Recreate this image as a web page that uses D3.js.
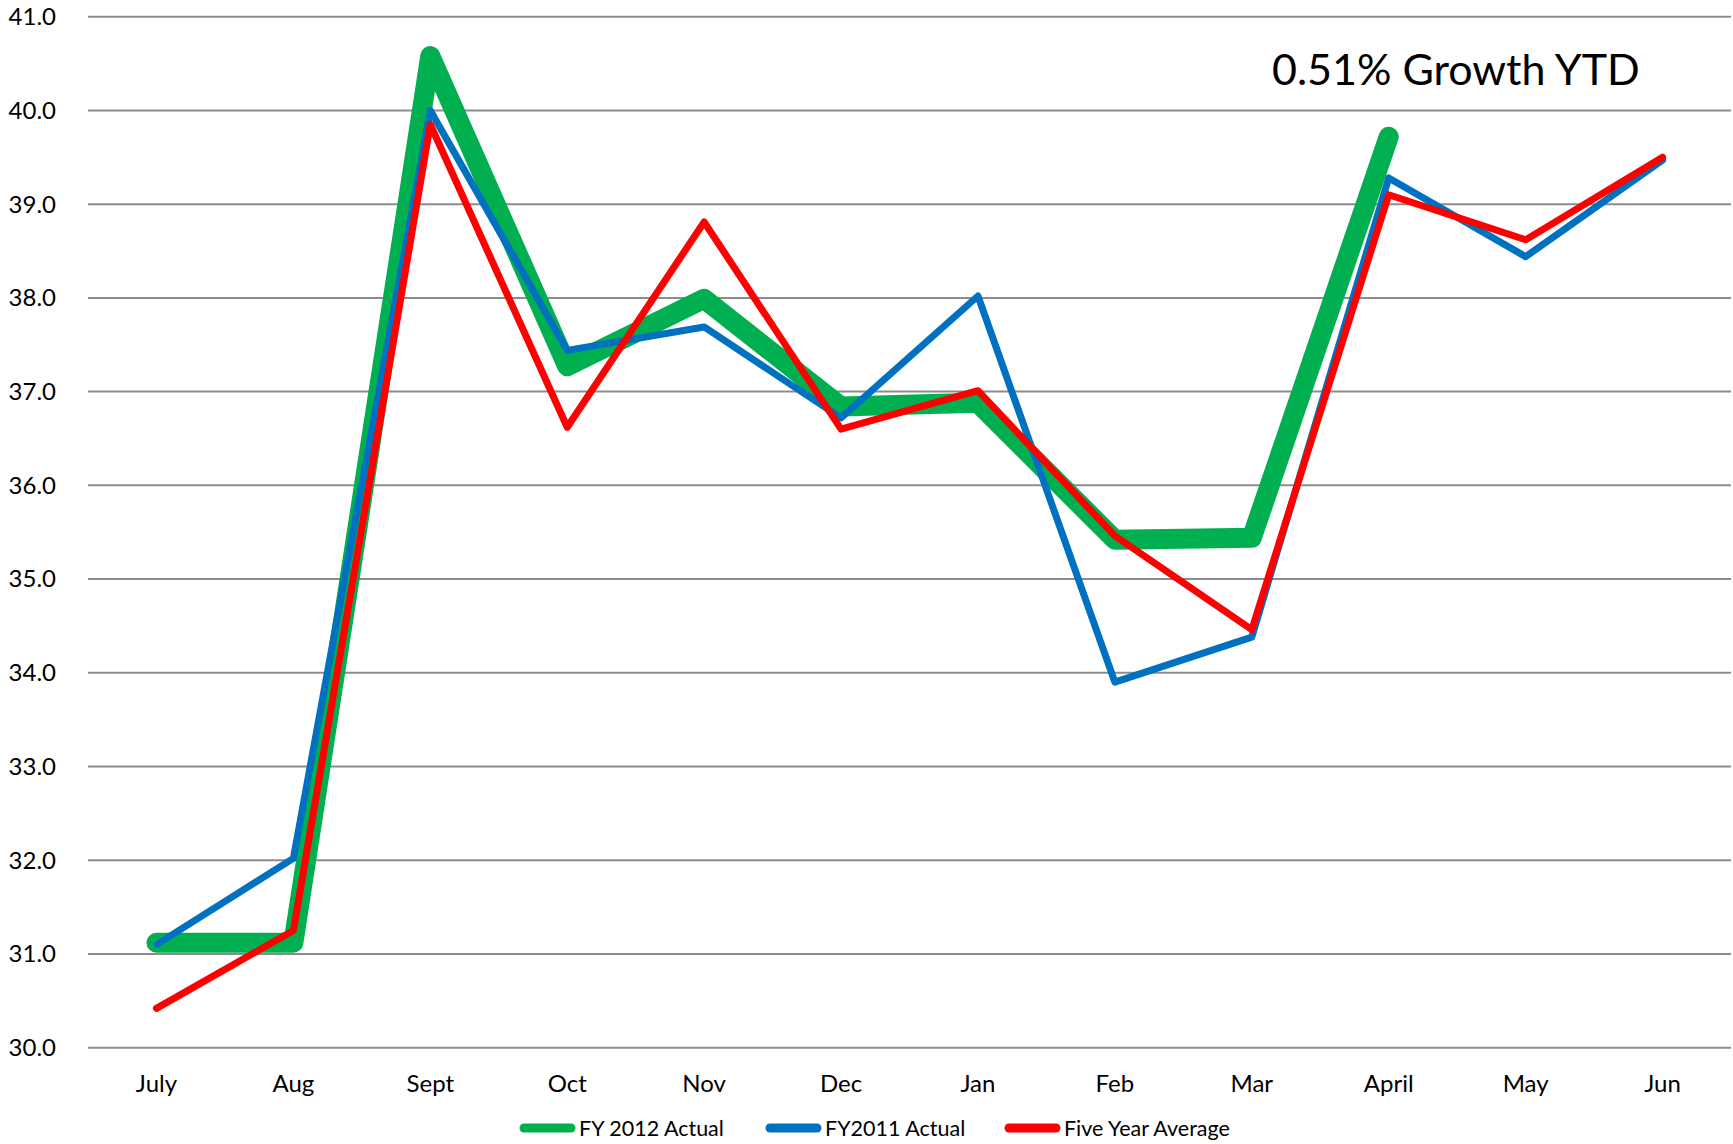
<!DOCTYPE html>
<html><head><meta charset="utf-8">
<script src="https://cdn.jsdelivr.net/npm/d3@7"></script>
<style>body{margin:0;background:#fff}svg{display:block}text{font-family:Lato,"Open Sans",sans-serif;fill:#000}</style>
</head><body>
<svg id="c" width="1733" height="1144"></svg>
<script>
const months = ["July","Aug","Sept","Oct","Nov","Dec","Jan","Feb","Mar","April","May","Jun"];
const fy2012 = [31.12,31.12,40.58,37.27,37.99,36.84,36.88,35.42,35.44,39.72];
const fy2011 = [31.10,32.02,40.00,37.44,37.69,36.72,38.02,33.90,34.38,39.28,38.44,39.47];
const fiveYear = [30.42,31.25,39.85,36.62,38.81,36.60,37.01,35.46,34.46,39.10,38.62,39.50];
const yTicks = [30,31,32,33,34,35,36,37,38,39,40,41];
const seriesNames = ["FY 2012 Actual","FY2011 Actual","Five Year Average"];
const seriesColors = ["#00B050","#0070C0","#FF0000"];
const seriesWidths = [20,7,7];
const annotation = "0.51% Growth YTD";

const svg = d3.select("#c");
const L = 88, R = 1731, T = 16.7, B = 1047.7;
const x = d3.scalePoint().domain(months).range([L, R]).padding(0.5);
const y = d3.scaleLinear().domain([30, 41]).range([B, T]);

// gridlines
svg.append("g").selectAll("line").data(yTicks).join("line")
  .attr("x1", L).attr("x2", R)
  .attr("y1", d => y(d)).attr("y2", d => y(d))
  .attr("stroke", "#8c8c8c").attr("stroke-width", 2);

// y labels
svg.append("g").selectAll("text").data(yTicks).join("text")
  .attr("x", 56).attr("y", d => y(d)).attr("dy", "0.35em")
  .attr("text-anchor", "end").attr("font-size", 24)
  .text(d => d.toFixed(1));

// x labels
svg.append("g").selectAll("text").data(months).join("text")
  .attr("x", d => x(d)).attr("y", 1092)
  .attr("text-anchor", "middle").attr("font-size", 24)
  .text(d => d);

const line = d3.line().x((d, i) => x(months[i])).y(d => y(d));
[fy2012, fy2011, fiveYear].forEach((s, k) => {
  svg.append("path").datum(s).attr("d", line)
    .attr("fill", "none").attr("stroke", seriesColors[k])
    .attr("stroke-width", seriesWidths[k])
    .attr("stroke-linejoin", "round").attr("stroke-linecap", "round");
});

// annotation
svg.append("text").attr("x", 1272).attr("y", 85).attr("font-size", 43).text(annotation);

// legend
const legX = [519, 765, 1004];
const lg = svg.append("g");
seriesNames.forEach((n, k) => {
  lg.append("line").attr("x1", legX[k] + 5).attr("x2", legX[k] + 52)
    .attr("y1", 1128).attr("y2", 1128)
    .attr("stroke", seriesColors[k]).attr("stroke-width", 9).attr("stroke-linecap", "round");
  lg.append("text").attr("x", legX[k] + 60).attr("y", 1128).attr("dy", "0.35em")
    .attr("font-size", 21.5).text(n);
});
</script>
</body></html>
